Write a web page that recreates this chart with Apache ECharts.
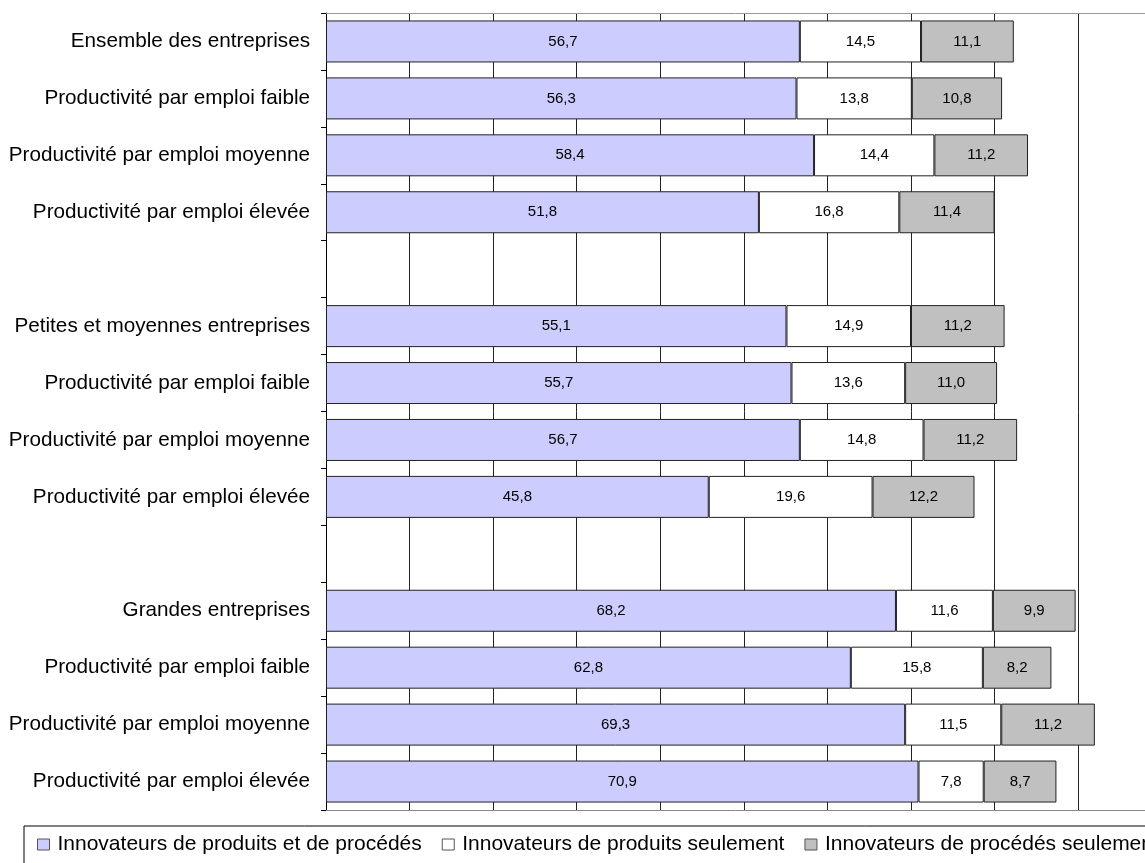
<!DOCTYPE html>
<html>
<head>
<meta charset="utf-8">
<script src="https://cdn.jsdelivr.net/npm/echarts@6/dist/echarts.min.js"></script>
<style>
  html, body { margin: 0; padding: 0; background: #fff; }
  #chart { width: 1145px; height: 863px; }
</style>
</head>
<body>
<div id="chart"></div>
<script>
// Row labels (empty strings are spacer rows between the three groups)
const categories = [
  'Ensemble des entreprises',
  'Productivité par emploi faible',
  'Productivité par emploi moyenne',
  'Productivité par emploi élevée',
  '',
  'Petites et moyennes entreprises',
  'Productivité par emploi faible',
  'Productivité par emploi moyenne',
  'Productivité par emploi élevée',
  '',
  'Grandes entreprises',
  'Productivité par emploi faible',
  'Productivité par emploi moyenne',
  'Productivité par emploi élevée'
];

const seriesNames = [
  'Innovateurs de produits et de procédés',
  'Innovateurs de produits seulement',
  'Innovateurs de procédés seulement'
];

// Shares in percent
const produitsEtProcedes = [56.7, 56.3, 58.4, 51.8, null, 55.1, 55.7, 56.7, 45.8, null, 68.2, 62.8, 69.3, 70.9];
const produitsSeulement  = [14.5, 13.8, 14.4, 16.8, null, 14.9, 13.6, 14.8, 19.6, null, 11.6, 15.8, 11.5, 7.8];
const procedesSeulement  = [11.1, 10.8, 11.2, 11.4, null, 11.2, 11.0, 11.2, 12.2, null, 9.9, 8.2, 11.2, 8.7];

const colors = ['#CCCCFF', '#FFFFFF', '#C0C0C0'];
const font = "'Liberation Sans', Arial, sans-serif";

// Visible part of the percentage scale (the page is cut just before 100)
const X_MAX = 98;

function frNumber(v) {
  return v.toFixed(1).replace('.', ',');
}

function makeSeries(name, data, color) {
  return {
    name: name,
    type: 'bar',
    stack: 'total',
    data: data,
    barWidth: 42,
    itemStyle: { color: color, borderColor: '#222', borderWidth: 1 },
    label: {
      show: true,
      position: 'inside',
      color: '#000',
      fontFamily: font,
      fontSize: 15,
      formatter: p => (p.value == null ? '' : frNumber(p.value))
    },
    emphasis: { disabled: true },
    animation: false
  };
}

const chart = echarts.init(document.getElementById('chart'), null, { renderer: 'canvas' });

chart.setOption({
  backgroundColor: '#fff',
  animation: false,
  grid: {
    left: 326,
    right: 0,
    top: 13,
    bottom: 53,
    show: false
  },
  legend: {
    left: 24,
    top: 826,
    width: 1400,
    orient: 'horizontal',
    padding: [8, 60, 30, 13],
    borderColor: '#000',
    borderWidth: 1,
    itemWidth: 12,
    itemHeight: 11,
    itemGap: 20,
    icon: 'rect',
    selectedMode: false,
    itemStyle: { borderColor: '#555', borderWidth: 1 },
    textStyle: { fontFamily: font, fontSize: 21, color: '#000', padding: [0, 0, 0, 3] },
    data: seriesNames
  },
  xAxis: [
    {
      type: 'value',
      position: 'bottom',
      min: 0,
      max: X_MAX,
      interval: 10,
      axisLabel: { show: false },
      axisTick: { show: false },
      axisLine: { show: true, lineStyle: { color: '#888', width: 1 } },
      splitLine: { show: true, showMaxLine: false, lineStyle: { color: '#222', width: 1 } }
    },
    {
      // top frame line of the plot area
      type: 'value',
      position: 'top',
      min: 0,
      max: X_MAX,
      interval: 10,
      axisLabel: { show: false },
      axisTick: { show: false },
      axisLine: { show: true, lineStyle: { color: '#999', width: 1 } },
      splitLine: { show: false }
    }
  ],
  yAxis: {
    type: 'category',
    inverse: true,
    data: categories,
    axisLine: { show: true, lineStyle: { color: '#000', width: 1 } },
    axisTick: { show: true, length: 5, lineStyle: { color: '#000' } },
    axisLabel: { fontFamily: font, fontSize: 20.7, color: '#000', margin: 16, interval: 0 },
    splitLine: { show: false }
  },
  series: [
    makeSeries(seriesNames[0], produitsEtProcedes, colors[0]),
    makeSeries(seriesNames[1], produitsSeulement, colors[1]),
    makeSeries(seriesNames[2], procedesSeulement, colors[2])
  ]
});
</script>
</body>
</html>
